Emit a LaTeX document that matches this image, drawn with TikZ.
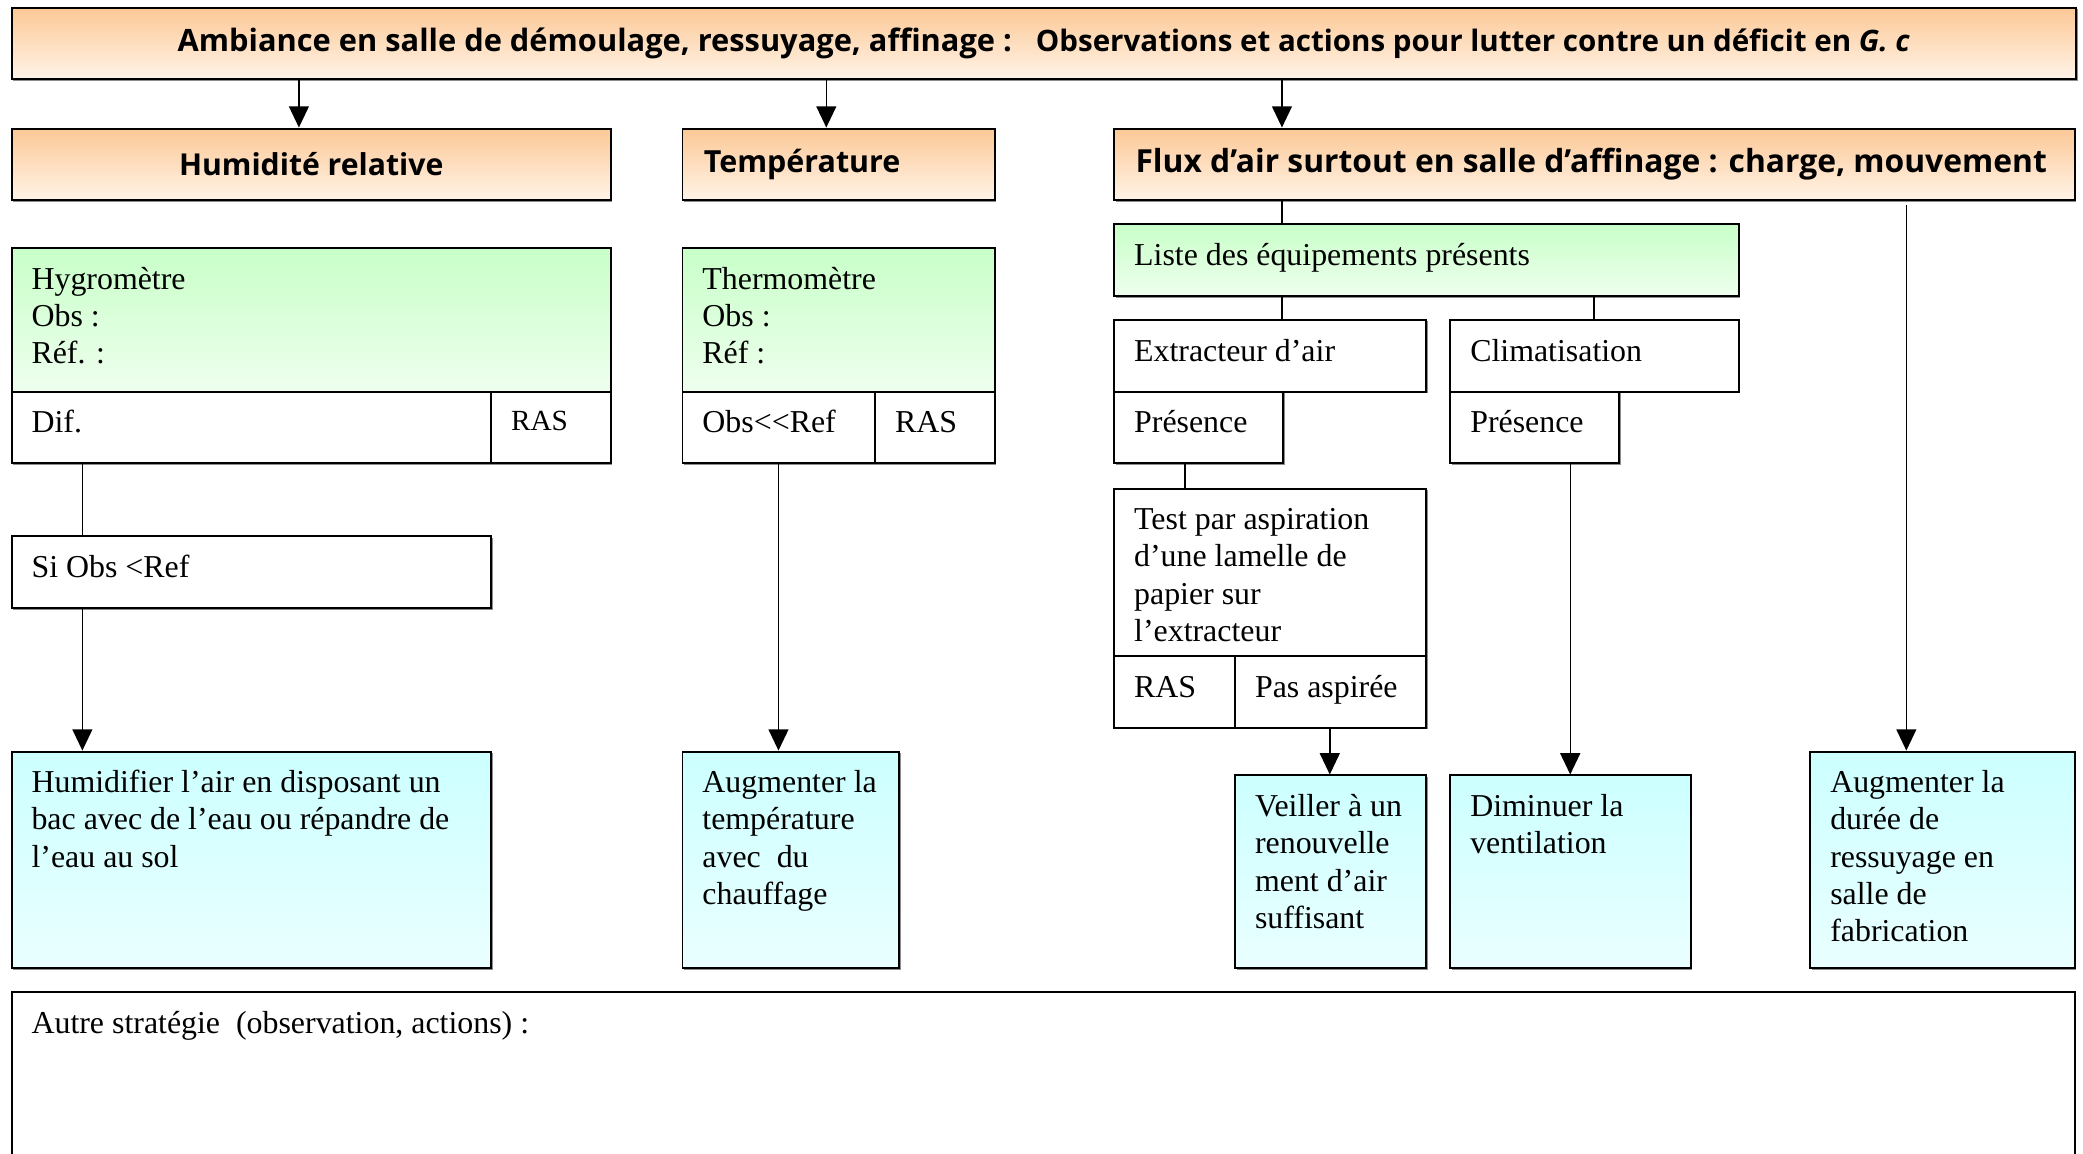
\documentclass[tikz,border=0pt]{standalone}
\usepackage{fontspec}
\usepackage{graphicx}
\setmainfont{Liberation Serif}
\newfontfamily\hdr{Open Sans}
\usetikzlibrary{arrows.meta,shadows}
\definecolor{orT}{RGB}{252,200,150}
\definecolor{orB}{RGB}{255,244,232}
\definecolor{grT}{RGB}{200,255,200}
\definecolor{grB}{RGB}{238,255,238}
\definecolor{cyT}{RGB}{204,255,255}
\definecolor{cyB}{RGB}{234,255,255}
\tikzset{
  box/.style={draw=black, line width=0.75pt, inner xsep=7.5pt, inner ysep=0pt,
    font=\fontsize{12}{14}\selectfont,
    drop shadow={shadow xshift=0.6pt, shadow yshift=-0.6pt, fill=black!45, opacity=1}},
  plain/.style={box, fill=white},
  hd/.style={box, top color=orT, bottom color=orB, font=\hdr\bfseries\fontsize{11.6}{14}\selectfont},
  gr/.style={box, top color=grT, bottom color=grB},
  cy/.style={box, top color=cyT, bottom color=cyB},
  link/.style={line width=0.55pt},
  arr/.style={link, -{Triangle[length=8pt,width=7.5pt]}},
}
% #1 style, #2 name, #3 x1, #4 y1, #5 x2, #6 y2, #7 valign, #8 content
\newcommand\bx[8]{\node[#1, anchor=north west] (#2) at (#3,#4)
  {\parbox[c][\dimexpr(#6pt-#4pt)/2\relax][#7]{\dimexpr(#5pt-#3pt)/2-15pt\relax}{#8}};}
\newcommand\firstl{\raggedright\rule{0pt}{15.5pt}}
\begin{document}
\begin{tikzpicture}[x=0.5pt,y=-0.5pt]
\useasboundingbox (0,0) rectangle (1568,868);
% headers
\bx{hd}{title}{8}{5}{1562}{59}{c}{\centering\resizebox{314pt}{!}{Ambiance en salle de démoulage, ressuyage, affinage :}\hspace{9pt}\resizebox{329pt}{!}{\fontsize{9.7}{12}\selectfont Observations et actions pour lutter contre un déficit en \textit{G. c}}}
\bx{hd}{hum}{8}{96}{459}{150}{c}{\centering\resizebox{99.5pt}{!}{Humidité relative}}
\bx{hd}{temp}{513}{96}{748}{150}{c}{\hspace*{0.5pt}\resizebox{74pt}{!}{Température}}
\bx{hd}{flux}{838}{96}{1561}{150}{c}{\hspace*{0.5pt}\resizebox{343pt}{!}{Flux d’air surtout en salle d’affinage : charge, mouvement}}
% humidity column
\bx{gr}{hyg}{8}{186}{459}{294}{t}{\firstl Hygromètre\\Obs :\\Réf. :}
\bx{plain}{dif}{8}{294}{369}{348}{t}{\firstl Dif.}
\bx{plain}{ras1}{369}{294}{459}{348}{t}{\raggedright\rule{0pt}{14.5pt}{\fontsize{11}{13}\selectfont RAS}}
\bx{plain}{si}{8}{403}{369}{457}{t}{\firstl Si Obs <Ref}
\bx{cy}{humid}{8}{565}{369}{728}{t}{\firstl Humidifier l’air en disposant un\\bac avec de l’eau ou répandre de\\l’eau au sol}
% temperature column
\bx{gr}{thermo}{513}{186}{748}{294}{t}{\firstl Thermomètre\\Obs :\\Réf :}
\bx{plain}{obsref}{513}{294}{658}{348}{t}{\firstl Obs{<}{<}Ref}
\bx{plain}{ras3}{658}{294}{748}{348}{t}{\firstl RAS}
\bx{cy}{augt}{513}{565}{676}{728}{t}{\firstl Augmenter la\\température\\avec\ \ du\\chauffage}
% air flow column
\bx{gr}{liste}{838}{168}{1308}{222}{t}{\firstl Liste des équipements présents}
\bx{plain}{extr}{838}{240}{1073}{294}{t}{\firstl Extracteur d’air}
\bx{plain}{clim}{1091}{240}{1308}{294}{t}{\firstl Climatisation}
\bx{plain}{pres1}{838}{294}{965}{348}{t}{\firstl Présence}
\bx{plain}{pres2}{1091}{294}{1218}{348}{t}{\firstl Présence}
\bx{plain}{test}{838}{367}{1073}{493}{t}{\firstl Test par aspiration\\d’une lamelle de\\papier sur\\l’extracteur}
\bx{plain}{ras2}{838}{493}{929}{547}{t}{\firstl RAS}
\bx{plain}{pasasp}{929}{493}{1073}{547}{t}{\firstl Pas aspirée}
\bx{cy}{veil}{929}{583}{1073}{728}{t}{\firstl Veiller à un\\renouvelle\\ment d’air\\suffisant}
\bx{cy}{dimi}{1091}{583}{1272}{728}{t}{\firstl Diminuer la\\ventilation}
\bx{cy}{augd}{1362}{565}{1561}{728}{t}{\firstl Augmenter la\\durée de\\ressuyage en\\salle de\\fabrication}
% bottom
\bx{plain}{autre}{8}{746}{1561}{900}{t}{\firstl Autre stratégie\ \ (observation, actions) :}
% connector x positions
\coordinate (a1) at (225,0);
\coordinate (a2) at (622,0);
\coordinate (a3) at (965,0);
\coordinate (a4) at (1200,0);
\coordinate (b1) at (62,0);
\coordinate (b2) at (586,0);
\coordinate (b3) at (892,0);
\coordinate (b4) at (1001,0);
\coordinate (b5) at (1182,0);
\coordinate (b6) at (1435,0);
% connectors
\draw[arr] (a1 |- title.south) -- (a1 |- hum.north);
\draw[arr] (a2 |- title.south) -- (a2 |- temp.north);
\draw[arr] (a3 |- title.south) -- (a3 |- flux.north);
\draw[link] (a3 |- flux.south) -- (a3 |- liste.north);
\draw[link] (a3 |- liste.south) -- (a3 |- extr.north);
\draw[link] (a4 |- liste.south) -- (a4 |- clim.north);
\draw[link] (b1 |- dif.south) -- (b1 |- si.north);
\draw[arr] (b1 |- si.south) -- (b1 |- humid.north);
\draw[arr] (b2 |- obsref.south) -- (b2 |- augt.north);
\draw[link] (b3 |- pres1.south) -- (b3 |- test.north);
\draw[arr] (b4 |- pasasp.south) -- (b4 |- veil.north);
\draw[arr] (b5 |- pres2.south) -- (b5 |- dimi.north);
\draw[arr] ([yshift=-1.5pt]b6 |- flux.south) -- (b6 |- augd.north);
\end{tikzpicture}
\end{document}
